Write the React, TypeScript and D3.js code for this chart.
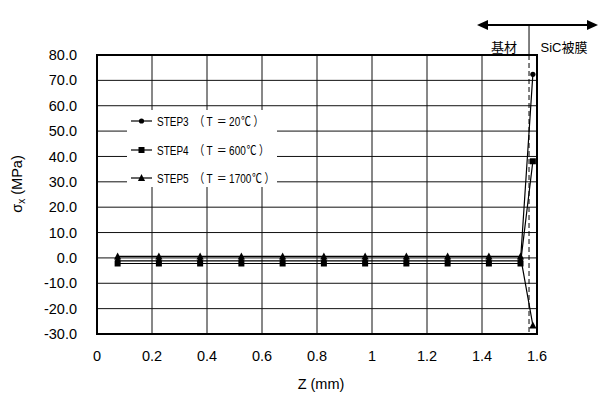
import React from "react";
import * as d3 from "d3";

const zPositions = [0.075, 0.225, 0.375, 0.525, 0.675, 0.825, 0.975, 1.125, 1.275, 1.425, 1.54, 1.585];
const step3Values = [-1.2, -1.2, -1.2, -1.2, -1.2, -1.2, -1.2, -1.2, -1.2, -1.2, -1.2, 72.4];
const step4Values = [-2.2, -2.2, -2.2, -2.2, -2.2, -2.2, -2.2, -2.2, -2.2, -2.2, -2.2, 38.1];
const step5Values = [0.6, 0.6, 0.6, 0.6, 0.6, 0.6, 0.6, 0.6, 0.6, 0.6, 0.6, -26.6];
const seriesSteps = ["STEP3", "STEP4", "STEP5"];
const seriesTemps = ["20", "600", "1700"];
const xTicks = [0, 0.2, 0.4, 0.6, 0.8, 1, 1.2, 1.4, 1.6];
const yTicks = [-30, -20, -10, 0, 10, 20, 30, 40, 50, 60, 70, 80];
const interfaceZ = 1.571;

const W = 598, H = 399;
const L = 97, R = 537, T = 55, B = 334;

export default function App() {
  const x = d3.scaleLinear().domain([0, 1.6]).range([L, R]);
  const y = d3.scaleLinear().domain([-30, 80]).range([B, T]);
  const line = d3.line<[number, number]>().x(d => x(d[0])).y(d => y(d[1]));
  const series = [step3Values, step4Values, step5Values];
  const font = "'Liberation Sans', Arial, sans-serif";
  const jp = "'Noto Sans CJK JP', sans-serif";
  const cjk = "'Liberation Sans', 'Noto Sans CJK JP', sans-serif";

  const marker = (kind: number, cx: number, cy: number, key: string) => {
    if (kind === 0) return <circle key={key} cx={cx} cy={cy} r={2.6} fill="#000" />;
    if (kind === 1) return <rect key={key} x={cx - 3} y={cy - 3} width={6} height={6} fill="#000" />;
    return <path key={key} d={`M${cx},${cy - 4}L${cx + 3.6},${cy + 3}L${cx - 3.6},${cy + 3}Z`} fill="#000" />;
  };

  const legX = 131, legRows = [121, 150, 178];
  const fs = 12.5;

  return (
    <svg width={W} height={H} style={{ position: "absolute", left: 0, top: 0, background: "#fff" }} fontFamily={font}>
      <rect x={0} y={0} width={W} height={H} fill="#fff" />
      {xTicks.slice(1, -1).map(t => (
        <line key={"gx" + t} x1={x(t)} x2={x(t)} y1={T} y2={B} stroke="#111" strokeWidth={1} />
      ))}
      {yTicks.slice(1, -1).map(t => (
        <line key={"gy" + t} x1={L} x2={R} y1={y(t)} y2={y(t)} stroke="#111" strokeWidth={1} />
      ))}
      <rect x={127} y={110} width={150} height={77} fill="#fff" />
      <line x1={x(interfaceZ)} x2={x(interfaceZ)} y1={T} y2={B} stroke="#000" strokeWidth={1} strokeDasharray="5,3" />
      {series.map((vals, i) => {
        const pts = zPositions.map((z, j) => [z, vals[j]] as [number, number]);
        return (
          <g key={"s" + i}>
            <path d={line(pts) || ""} fill="none" stroke="#000" strokeWidth={1.2} />
            {pts.map((p, j) => marker(i, x(p[0]), y(p[1]), `m${i}-${j}`))}
          </g>
        );
      })}
      <rect x={L} y={T} width={R - L} height={B - T} fill="none" stroke="#000" strokeWidth={2} />
      {yTicks.map(t => (
        <text key={"yl" + t} x={77} y={y(t)} dy="0.35em" textAnchor="end" fontSize={14.5} fill="#000">{t.toFixed(1)}</text>
      ))}
      {xTicks.map(t => (
        <text key={"xl" + t} x={x(t)} y={361} textAnchor="middle" fontSize={14.5} fill="#000">{String(t)}</text>
      ))}
      <text x={321} y={389} textAnchor="middle" fontSize={14.5} fill="#000">Z (mm)</text>
      <text transform={`translate(22,184) rotate(-90)`} textAnchor="middle" fontSize={14.5} fill="#000">
        σ<tspan fontSize={10} dy={3}>x</tspan><tspan dy={-3}> (MPa)</tspan>
      </text>
      {seriesSteps.map((n, i) => (
        <g key={"lg" + i}>
          <line x1={legX} x2={legX + 21} y1={legRows[i]} y2={legRows[i]} stroke="#000" strokeWidth={1.2} />
          {marker(i, legX + 10.5, legRows[i], "lm" + i)}
          <g transform={`translate(${legX + 26},${legRows[i]}) scale(0.8,1)`}>
            <text x={0} y={0} dy="0.36em" fontSize={fs} fill="#000">
              <tspan>{n}</tspan>
              <tspan fontFamily={jp} dx={7}>（</tspan>
              <tspan dx={3}>T</tspan>
              <tspan fontFamily={jp} dx={5}>＝</tspan>
              <tspan dx={3}>{seriesTemps[i]}</tspan>
              <tspan fontFamily={jp} dx={1}>℃</tspan>
              <tspan fontFamily={jp} dx={3}>）</tspan>
            </text>
          </g>
        </g>
      ))}
      <line x1={486} x2={590} y1={25} y2={25} stroke="#000" strokeWidth={2} />
      <path d="M477,25L488,20L488,30Z" fill="#000" />
      <path d="M598,25L587,20L587,30Z" fill="#000" />
      <line x1={x(interfaceZ)} x2={x(interfaceZ)} y1={25} y2={T} stroke="#000" strokeWidth={1} />
      <text x={504} y={47} dy="0.35em" textAnchor="middle" fontSize={13} fill="#000" fontFamily={cjk}>基材</text>
      <text x={564} y={47} dy="0.35em" textAnchor="middle" fontSize={13} fill="#000" fontFamily={cjk}>SiC被膜</text>
    </svg>
  );
}
